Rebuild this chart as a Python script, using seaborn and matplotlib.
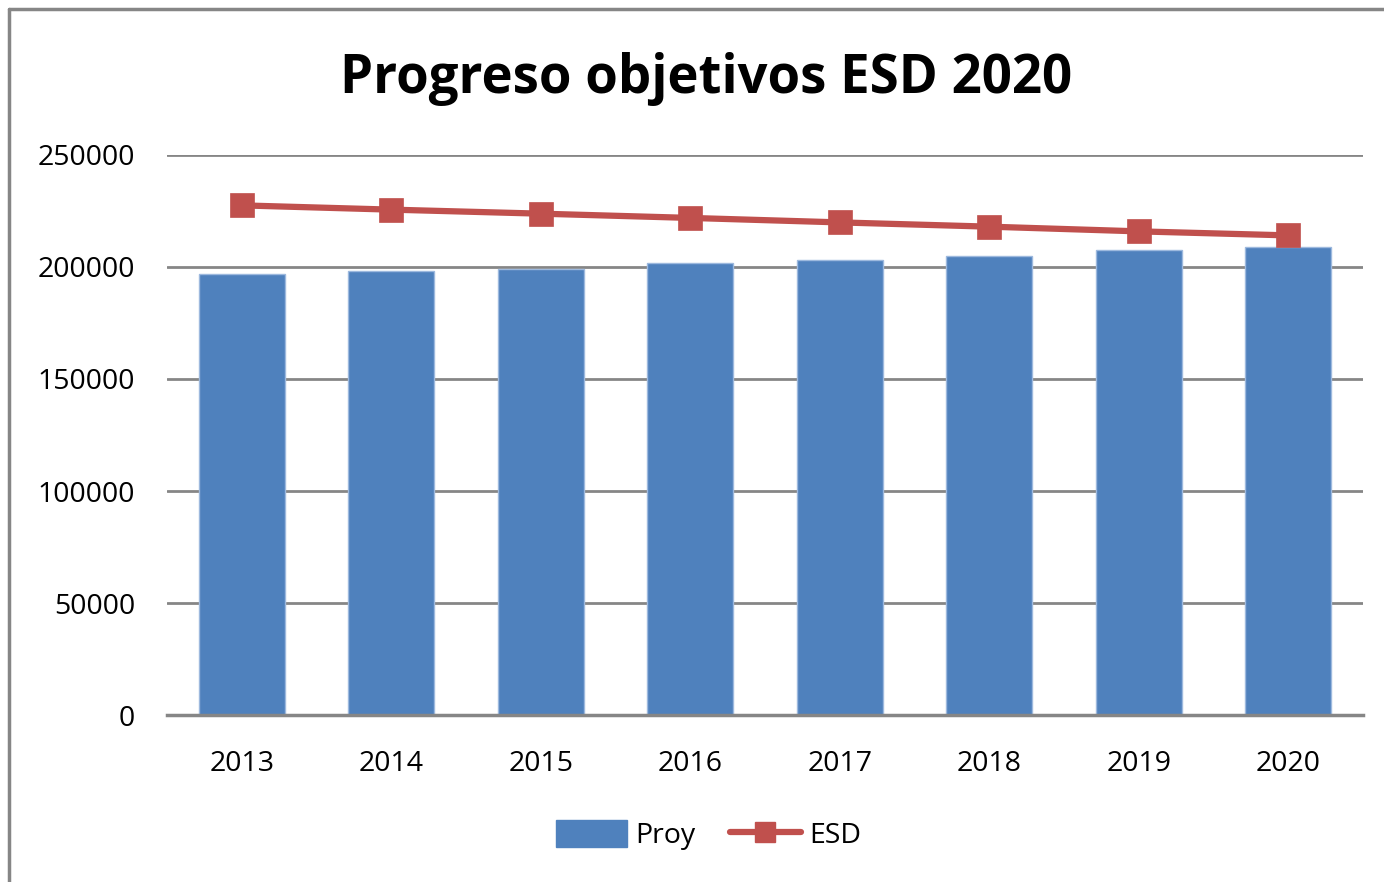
import seaborn as sb
import matplotlib.pyplot as plt
from matplotlib.patches import Patch
from matplotlib.lines import Line2D

anios = ["2013", "2014", "2015", "2016", "2017", "2018", "2019", "2020"]
proy = [196900, 198300, 199300, 201900, 203100, 205100, 207500, 208900]
esd = [227500, 225600, 223800, 221900, 219900, 218000, 215900, 214100]

azul = "#4F81BD"
rojo = "#C0504D"
gris = "#868686"

sb.set_style("white")
plt.rcParams["font.family"] = ["Open Sans", "DejaVu Sans"]
plt.rcParams["text.color"] = "black"

fig = plt.figure(figsize=(13.84, 8.82), dpi=100)
ax = fig.add_axes([0.1207, 0.1893, 0.8641, 0.635])

sb.barplot(x=anios, y=proy, color=azul, width=0.575, saturation=1,
           edgecolor="#9DB9DE", linewidth=1, ax=ax, zorder=2)
sb.pointplot(x=anios, y=esd, color=rojo, markers="s", markersize=15,
             linewidth=4.5, ax=ax, zorder=3)
for c in ax.collections:
    c.set_zorder(4)

ax.set_ylim(0, 250000)
ax.set_yticks(range(0, 250001, 50000))
ax.yaxis.grid(True, color=gris, linewidth=2)
ax.set_axisbelow(True)
for s in ["top", "right", "left"]:
    ax.spines[s].set_visible(False)
ax.spines["bottom"].set_color(gris)
ax.spines["bottom"].set_linewidth(2.5)
ax.tick_params(axis="both", length=0, labelsize=20.5, labelcolor="black")
ax.tick_params(axis="y", pad=23)
ax.tick_params(axis="x", pad=25)
ax.set(xlabel="", ylabel="")
ax.set_xlim(-0.5, 7.5)

fig.text(0.51, 0.91, "Progreso objetivos ESD 2020", ha="center", va="center",
         fontsize=38, fontweight="bold", color="black")

handles = [Patch(facecolor=azul, edgecolor=azul, label="Proy"),
           Line2D([0], [0], color=rojo, linewidth=4.5, marker="s", markersize=15,
                  label="ESD")]
fig.legend(handles=handles, loc="center", bbox_to_anchor=(0.512, 0.053), ncol=2,
           frameon=False, fontsize=20.5, handlelength=2.5, handleheight=1.1,
           columnspacing=1.2, handletextpad=0.3, labelcolor="black")

# borde del grafico
fig.add_artist(Line2D([0.0065, 1], [0.9895, 0.9895], color=gris, linewidth=2.5,
                      transform=fig.transFigure))
fig.add_artist(Line2D([0.0065, 0.0065], [0, 0.9895], color=gris, linewidth=2.5,
                      transform=fig.transFigure))

fig.savefig("out.png")
